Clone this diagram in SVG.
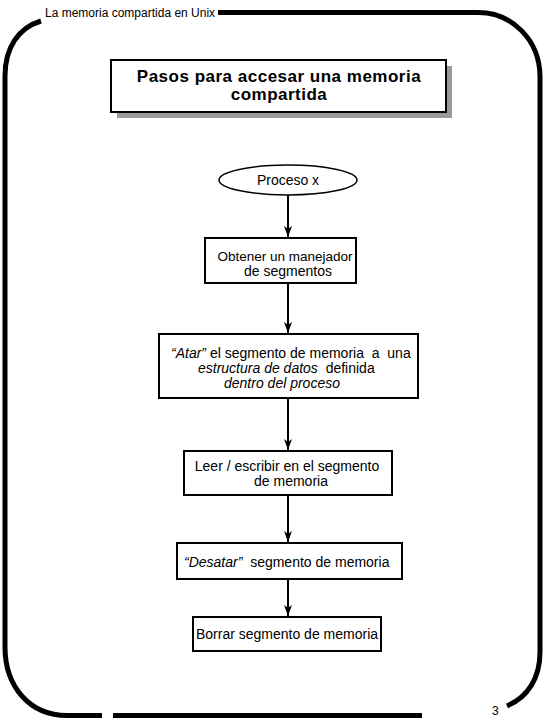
<svg xmlns="http://www.w3.org/2000/svg" width="545" height="727" viewBox="0 0 545 727">
<defs>
<style>
.frame{fill:none;stroke:#000;stroke-width:5}
.box{fill:#fff;stroke:#000;stroke-width:2}
.conn{stroke:#000;stroke-width:2;fill:none}
.t{font-family:"Liberation Sans",Arial,sans-serif;font-size:14px;fill:#000}
.c{text-anchor:middle}
.i{font-style:italic}
.title{font-family:"Liberation Sans",Arial,sans-serif;font-size:17px;font-weight:bold;letter-spacing:0.5px;text-anchor:middle;fill:#000}
.hdr{font-family:"Liberation Sans",Arial,sans-serif;font-size:12px;fill:#000}
</style>
<marker id="ah" markerWidth="10" markerHeight="12" refX="4" refY="11" orient="0" markerUnits="userSpaceOnUse">
<path d="M0,0 L4,3 L8,0 L4,11 z" fill="#000"/>
</marker>
</defs>
<g id="frame">
<path class="frame" d="M218,12.5 L478,12.5 C512,12.5 540,40 540,77 L540,652 C540,678 528,697 507,706"/>
<path class="frame" d="M41,21 C18,28 5,48 5,76 L5,647 C5,687 30,715.5 67,715.5 L102,715.5"/>
<path class="frame" d="M113,715.5 L422,715.5"/>
<text class="hdr" x="45" y="17">La memoria compartida en Unix</text>
<text class="hdr" x="492" y="715">3</text>
</g>
<g id="title">
<rect x="117" y="66" width="335" height="52" fill="#999"/>
<rect class="box" x="111" y="60" width="335" height="52"/>
<text class="title" x="279" y="82">Pasos para accesar una memoria</text>
<text class="title" x="279" y="100">compartida</text>
</g>
<g id="connectors">
<line class="conn" x1="288" y1="195" x2="288" y2="237" marker-end="url(#ah)"/>
<line class="conn" x1="288" y1="283" x2="288" y2="333" marker-end="url(#ah)"/>
<line class="conn" x1="288" y1="398" x2="288" y2="450" marker-end="url(#ah)"/>
<line class="conn" x1="288" y1="495" x2="288" y2="542" marker-end="url(#ah)"/>
<line class="conn" x1="288" y1="579" x2="288" y2="616" marker-end="url(#ah)"/>
</g>
<g id="n0">
<ellipse cx="288" cy="180" rx="69" ry="15" fill="#fff" stroke="#000" stroke-width="1.5"/>
<text class="t c" x="288" y="185">Proceso x</text>
</g>
<g id="n1">
<rect class="box" x="205" y="238" width="151" height="45"/>
<text class="t c" x="285" y="261" style="font-size:13.5px">Obtener un manejador</text>
<text class="t c" x="288" y="276">de segmentos</text>
</g>
<g id="n2">
<rect class="box" x="159" y="334" width="259" height="64"/>
<text class="t" x="171" y="358" xml:space="preserve"><tspan class="i">“Atar”</tspan> el segmento de memoria  a  una</text>
<text class="t" x="198" y="373" xml:space="preserve"><tspan class="i">estructura de datos</tspan>  definida</text>
<text class="t c i" x="282" y="388">dentro del proceso</text>
</g>
<g id="n3">
<rect class="box" x="184" y="451" width="208" height="44"/>
<text class="t c" x="287" y="471">Leer / escribir en el segmento</text>
<text class="t c" x="291" y="486">de memoria</text>
</g>
<g id="n4">
<rect class="box" x="177" y="543" width="225" height="36"/>
<text class="t" x="184" y="567" xml:space="preserve"><tspan class="i">“Desatar”</tspan>  segmento de memoria</text>
</g>
<g id="n5">
<rect class="box" x="193" y="617" width="188" height="34"/>
<text class="t c" x="287" y="639">Borrar segmento de memoria</text>
</g>
</svg>
